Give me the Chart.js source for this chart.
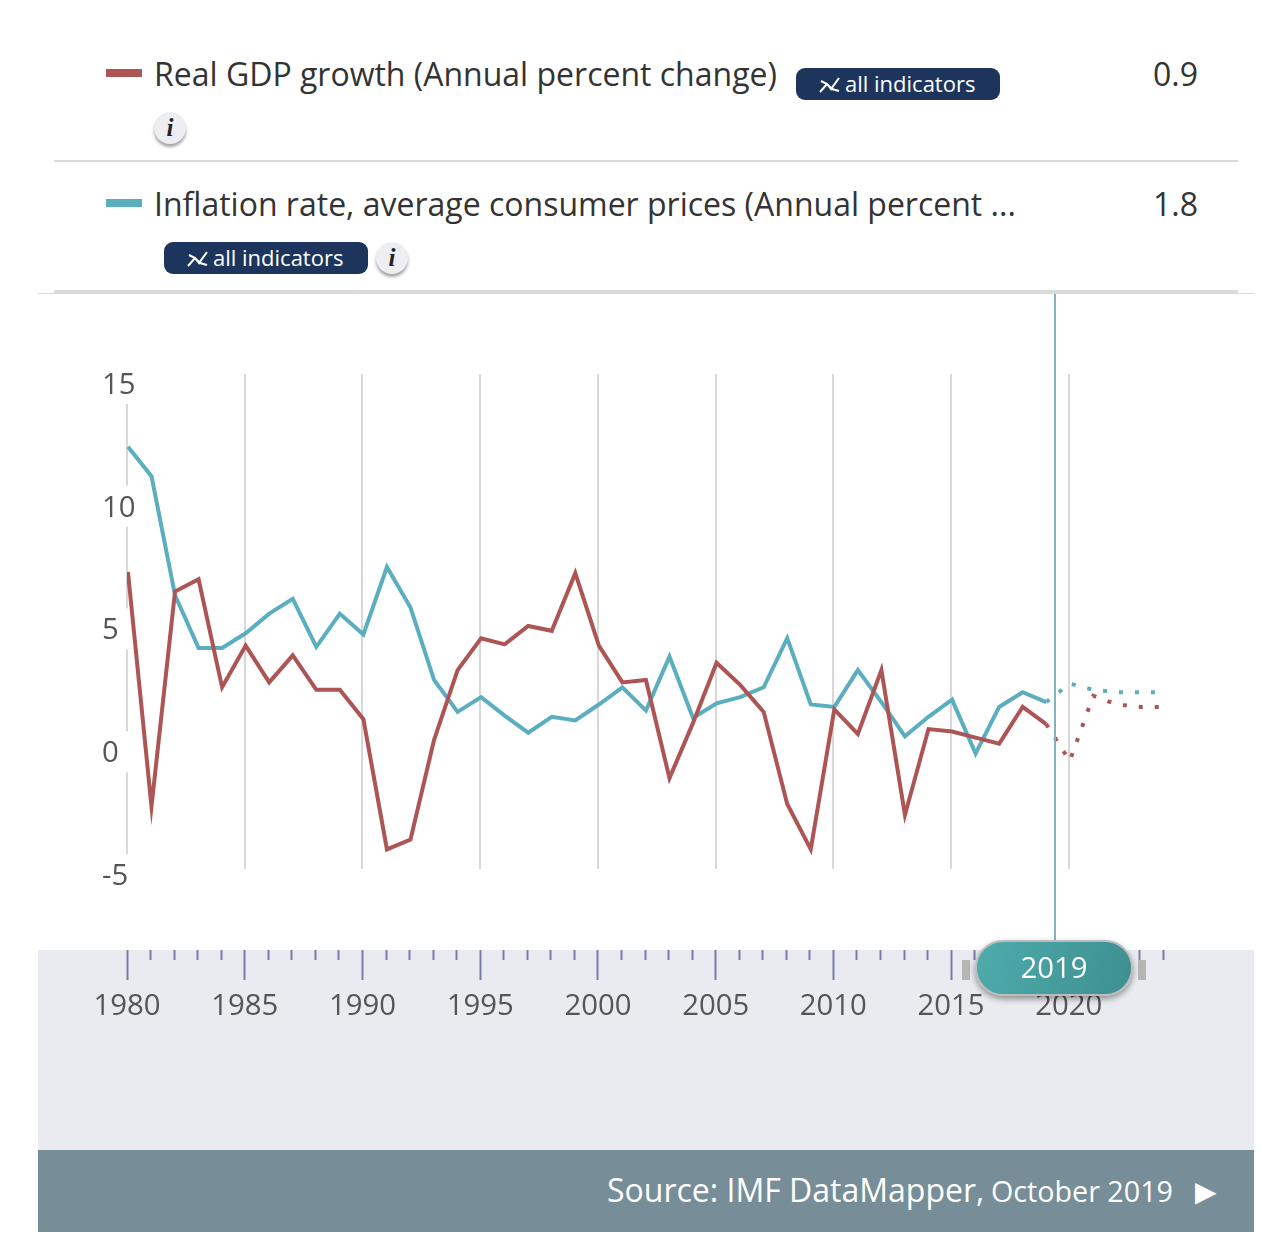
<!DOCTYPE html>
<html>
<head>
<meta charset="utf-8">
<title>IMF DataMapper</title>
<script src="https://cdn.jsdelivr.net/npm/chart.js@4"></script>
<style>
  html, body { margin: 0; background: #fff; }
  #page { position: relative; width: 1262px; height: 1240px; overflow: hidden; font-family: "Open Sans", sans-serif; color: #333; }
  #page > * { position: absolute; }
  .swatch { left: 106px; width: 36px; height: 8px; }
  .label { left: 154px; font-size: 32px; line-height: 40px; white-space: nowrap; }
  .value { right: 64px; font-size: 32px; line-height: 40px; }
  .badge { width: 204px; height: 32px; background: #1d355d; border-radius: 9px; color: #fff; font-size: 22px; line-height: 31px; white-space: nowrap; }
  .badge svg { position: absolute; left: 23px; top: 8px; }
  .badge span { position: absolute; left: 49px; }
  .info { width: 32px; height: 32px; border-radius: 50%; background: #eceef1; box-shadow: 0 3px 3px rgba(0,0,0,.35); font: italic bold 25px/31px "Liberation Serif", serif; color: #222; text-align: center; }
  .rule { background: #dadada; }
  #band { left: 38px; top: 950px; width: 1216px; height: 200px; background: #eaebf0; }
  #footer { left: 38px; top: 1150px; width: 1216px; height: 82px; background: #778d97; }
  #chart { left: 0; top: 294px; }
  #cursor { left: 1054px; top: 294px; width: 2px; height: 650px; background: #7fb5b8; }
  .handle { top: 960px; width: 8px; height: 20px; background: #b5b5b5; }
  #pill { left: 975px; top: 940px; width: 154px; height: 52px; border: 2px solid #bcbcbc; border-radius: 28px; background: linear-gradient(100deg, #4eabab, #3e8f90); box-shadow: 0 3px 6px rgba(0,0,0,.4); color: #fff; font-size: 29.3px; line-height: 50px; text-align: center; }
  .source { color: #fff; white-space: nowrap; }
</style>
</head>
<body>
<div id="page">
  <div class="swatch" style="top:69px;background:#ad5555"></div>
  <div class="label" style="top:54px">Real GDP growth (Annual percent change)</div>
  <div class="badge" style="left:796px;top:68px">
    <svg width="22" height="18" viewBox="0 0 22 18" fill="none" stroke="#fff" stroke-width="2"><path d="M1 16 8 8l4 5 8-11M2 5l6 3 5 5 7 2"/></svg>
    <span>all indicators</span>
  </div>
  <div class="value" style="top:54px">0.9</div>
  <div class="info" style="left:154px;top:112px">i</div>
  <div class="rule" style="left:54px;top:160px;width:1184px;height:2px"></div>

  <div class="swatch" style="top:199px;background:#5baec0"></div>
  <div class="label" style="top:184px">Inflation rate, average consumer prices (Annual percent ...</div>
  <div class="value" style="top:184px">1.8</div>
  <div class="badge" style="left:164px;top:242px">
    <svg width="22" height="18" viewBox="0 0 22 18" fill="none" stroke="#fff" stroke-width="2"><path d="M1 16 8 8l4 5 8-11M2 5l6 3 5 5 7 2"/></svg>
    <span>all indicators</span>
  </div>
  <div class="info" style="left:376px;top:242px">i</div>
  <div class="rule" style="left:54px;top:290px;width:1184px;height:3px"></div>
  <div class="rule" style="left:38px;top:293px;width:1216px;height:1px"></div>

  <div id="band"></div>
  <div id="footer"></div>
  <canvas id="chart" width="1262" height="746"></canvas>
  <div id="cursor"></div>
  <div class="handle" style="left:962px"></div>
  <div class="handle" style="left:1138px"></div>
  <div id="pill">2019</div>

  <div class="source" style="left:607px;top:1169px;font-size:32px;line-height:42px">Source: IMF DataMapper,</div>
  <div class="source" style="left:991px;top:1170px;font-size:28.7px;line-height:42px">October 2019</div>
  <div class="source" style="left:1195px;top:1169px;font-size:28px;line-height:42px">&#9654;</div>
</div>

<script>
// ========== values ==========
const YEARS = [1980, 1981, 1982, 1983, 1984, 1985, 1986, 1987, 1988, 1989,
  1990, 1991, 1992, 1993, 1994, 1995, 1996, 1997, 1998, 1999,
  2000, 2001, 2002, 2003, 2004, 2005, 2006, 2007, 2008, 2009,
  2010, 2011, 2012, 2013, 2014, 2015, 2016, 2017, 2018, 2019];
const GDP_GROWTH = [7.1, -2.45, 6.3, 6.8, 2.4, 4.1, 2.6, 3.7, 2.3, 2.3,
  1.1, -4.2, -3.8, 0.25, 3.1, 4.4, 4.15, 4.9, 4.7, 7.05,
  4.1, 2.6, 2.7, -1.3, 0.95, 3.4, 2.5, 1.4, -2.35, -4.2,
  1.5, 0.5, 3.1, -2.8, 0.7, 0.6, 0.35, 0.1, 1.6, 0.9];
const INFLATION = [12.2, 11.0, 6.15, 4.0, 4.0, 4.6, 5.4, 6.0, 4.05, 5.4,
  4.55, 7.3, 5.65, 2.7, 1.4, 2.0, 1.25, 0.55, 1.2, 1.05,
  1.7, 2.4, 1.45, 3.65, 1.15, 1.75, 2.0, 2.4, 4.4, 1.7,
  1.6, 3.1, 1.8, 0.4, 1.2, 1.9, -0.3, 1.6, 2.2, 1.8];
const FORECAST_YEARS = [2019, 2020, 2021, 2022, 2023, 2024];
const GDP_FORECAST = [0.9, -0.6, 2.05, 1.7, 1.6, 1.6];
const INFLATION_FORECAST = [1.8, 2.55, 2.3, 2.2, 2.2, 2.2];
const Y_TICKS = [-5, 0, 5, 10, 15];

const RED = '#ad5555';
const BLUE = '#5baec0';
const TICK_COLOR = '#7a7ca8';
const FONT = { family: '"Open Sans", sans-serif', size: 29.3 };

const toPoints = (xs, ys) => xs.map((x, i) => ({ x, y: ys[i] }));

new Chart(document.getElementById('chart'), {
  type: 'line',
  data: {
    datasets: [
      { label: 'Real GDP growth', data: toPoints(YEARS, GDP_GROWTH), borderColor: RED },
      { label: 'Inflation rate', data: toPoints(YEARS, INFLATION), borderColor: BLUE },
      { label: 'Real GDP growth forecast', data: toPoints(FORECAST_YEARS, GDP_FORECAST), borderColor: RED, borderDash: [4, 12] },
      { label: 'Inflation rate forecast', data: toPoints(FORECAST_YEARS, INFLATION_FORECAST), borderColor: BLUE, borderDash: [4, 12] }
    ]
  },
  options: {
    responsive: false,
    animation: false,
    layout: { padding: { left: 103, right: 99, top: 80, bottom: 0 } },
    elements: {
      line: { borderWidth: 4, tension: 0, fill: false },
      point: { radius: 0 }
    },
    plugins: { legend: { display: false }, tooltip: { enabled: false } },
    datasets: { line: { xAxisID: 'lines' } },
    scales: {
      // the plotted lines sit about a pixel right of the guides in the original
      lines: {
        type: 'linear',
        axis: 'x',
        display: false,
        min: 1979.96,
        max: 2023.96
      },
      // vertical guides in the plot; the blank height below it is the gap above the timeline
      x: {
        type: 'linear',
        position: 'bottom',
        weight: 1,
        min: 1980,
        max: 2024,
        afterFit: scale => { scale.height = 81; },
        afterBuildTicks: scale => { scale.ticks = scale.ticks.filter(t => t.value % 5 === 0); },
        ticks: { display: false, stepSize: 5 },
        border: { display: false },
        grid: { color: '#d8d8d8', lineWidth: 2, drawTicks: false }
      },
      // timeline strip: a tick for each year, long and labelled every five
      timeline: {
        type: 'linear',
        position: 'bottom',
        weight: 2,
        min: 1980,
        max: 2024,
        afterFit: scale => { scale.height = 90; },
        ticks: {
          stepSize: 1,
          autoSkip: false,
          maxRotation: 0,
          padding: 9,
          color: '#555',
          font: FONT,
          callback: v => (v % 5 === 0 ? String(v) : '')
        },
        border: { display: false },
        grid: {
          drawOnChartArea: false,
          tickLength: 30,
          tickColor: TICK_COLOR,
          tickWidth: 2,
          tickBorderDash: ctx => (ctx.tick.value % 5 === 0 ? [] : [10, 100])
        }
      },
      y: {
        min: -5,
        max: 15.16,
        afterFit: scale => { scale.width = 24; },
        afterBuildTicks: scale => { scale.ticks = Y_TICKS.map(value => ({ value })); },
        ticks: {
          mirror: true,
          padding: -25,
          labelOffset: 7.5,
          color: '#555',
          font: FONT,
          showLabelBackdrop: true,
          backdropColor: '#fff',
          backdropPadding: { left: 0, right: 12, top: 5, bottom: 1 }
        },
        border: { display: false },
        grid: { display: false }
      }
    }
  }
});
</script>
</body>
</html>
